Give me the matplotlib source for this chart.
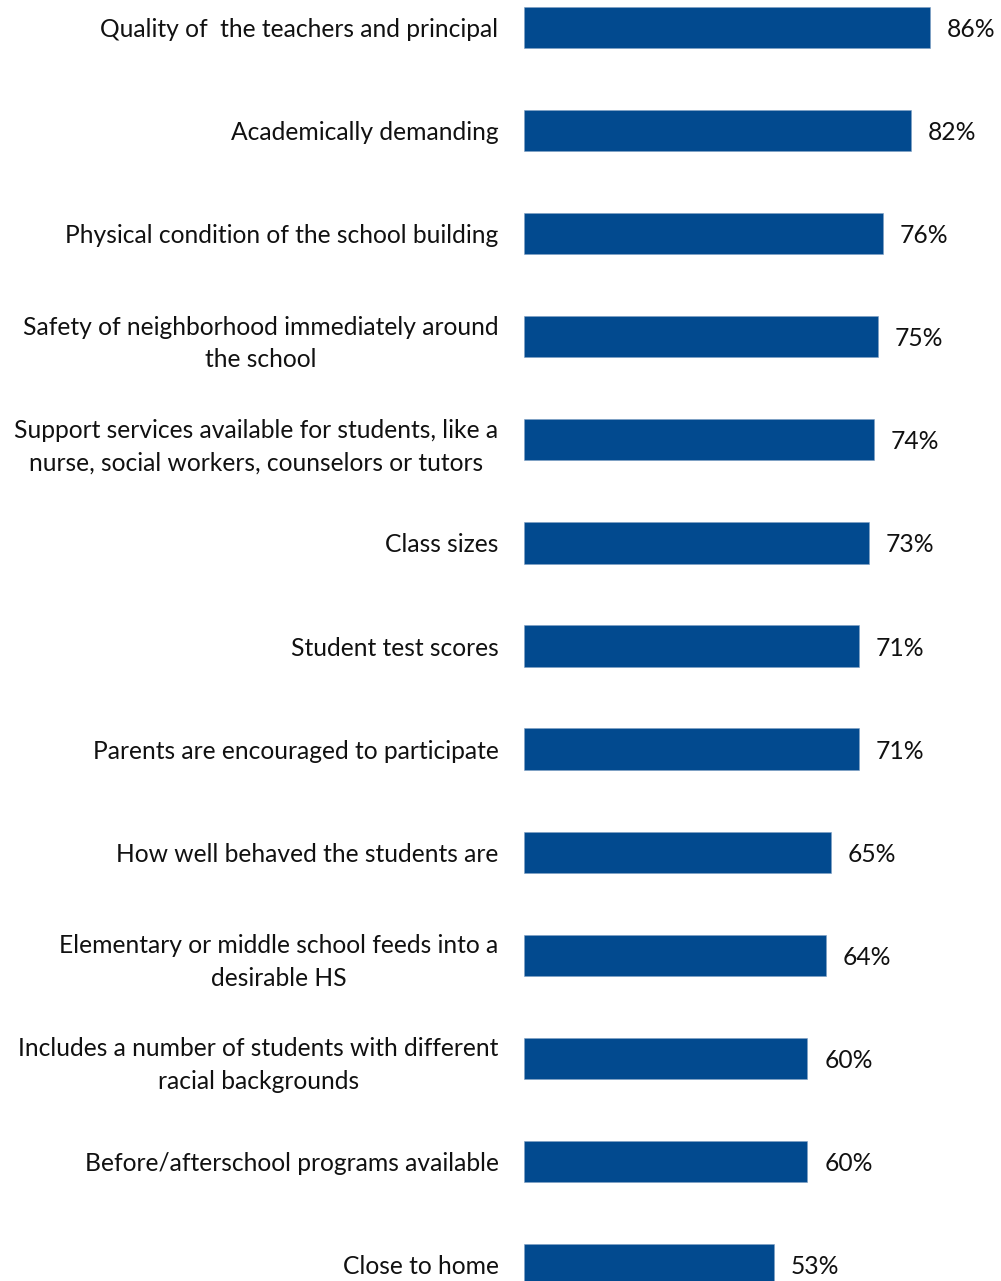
import matplotlib
matplotlib.use("Agg")
import matplotlib.pyplot as plt

categories = [
    "Quality of  the teachers and principal",
    "Academically demanding",
    "Physical condition of the school building",
    "Safety of neighborhood immediately around\nthe school",
    "Support services available for students, like a\nnurse, social workers, counselors or tutors",
    "Class sizes",
    "Student test scores",
    "Parents are encouraged to participate",
    "How well behaved the students are",
    "Elementary or middle school feeds into a\ndesirable HS",
    "Includes a number of students with different\nracial backgrounds",
    "Before/afterschool programs available",
    "Close to home",
]
values = [86, 82, 76, 75, 74, 73, 71, 71, 65, 64, 60, 60, 53]
value_labels = [f"{v}%" for v in values]

BAR_COLOR = "#024A8F"
FONT = "Lato"
FS = 17.7

fig = plt.figure(figsize=(10.01, 12.81), dpi=100)
ax = fig.add_axes([524.3 / 1001, 0, 1 - 524.3 / 1001, 1])

pos = list(range(len(categories)))
ax.barh(pos, values, height=0.4, color=BAR_COLOR, edgecolor="#7f9fc4", linewidth=0.4)
ax.set_xlim(0, 101)
ax.set_ylim(12.16, -0.267)

ax.set_yticks(pos)
ax.set_yticklabels(categories, fontfamily=FONT, fontsize=FS, ha="right",
                   multialignment="center", linespacing=1.5, color="#111111")
ax.tick_params(axis="y", length=0, pad=18.5)
ax.set_xticks([])
for s in ax.spines.values():
    s.set_visible(False)

for y, v, lab in zip(pos, values, value_labels):
    ax.annotate(lab, (v, y), xytext=(12, 0), textcoords="offset points",
                va="center_baseline", ha="left", fontfamily=FONT, fontsize=FS,
                color="#111111")

fig.savefig("out.png", dpi=100)
